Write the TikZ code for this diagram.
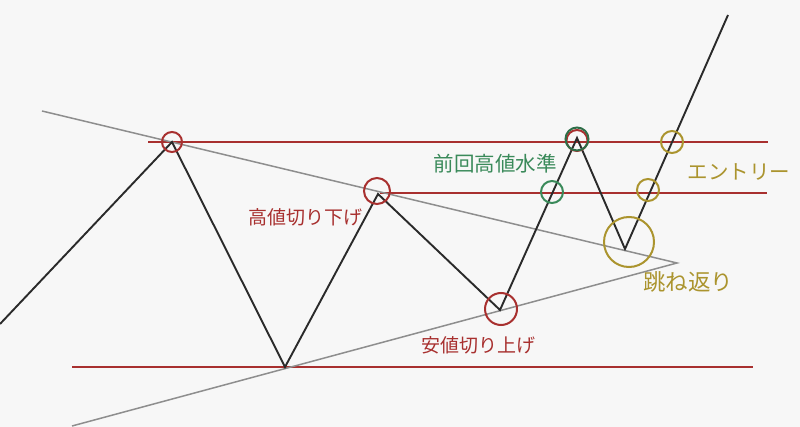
\documentclass[tikz,border=0pt]{standalone}
\usepackage{fontspec}
\newfontfamily\jp{Noto Sans CJK JP}
\definecolor{bg}{HTML}{F7F7F7}
\definecolor{lred}{HTML}{A8302F}
\definecolor{lgreen}{HTML}{3A8A5A}
\definecolor{dgreen}{HTML}{2E6E48}
\definecolor{lgold}{HTML}{AB942E}
\definecolor{lgray}{HTML}{8E8E8E}
\definecolor{lblack}{HTML}{2A2A2A}
\begin{document}
\begin{tikzpicture}[x=1pt,y=-1pt,
  level/.style={draw=lred,line width=2pt},
  trend/.style={draw=lgray,line width=1.5pt},
  price/.style={draw=lblack,line width=1.9pt,line join=miter},
  ring/.style={circle,draw=#1,line width=2pt,inner sep=0pt,fill=none},
  lbl/.style={font=\jp,text=#1,inner sep=0pt}]
\fill[bg] (0,0) rectangle (800,427);
\useasboundingbox (0,0) rectangle (800,427);
% coordinates
\coordinate (s) at (0,324);
\coordinate (p1) at (172,142);
\coordinate (t1) at (285,367);
\coordinate (p2) at (378,194);
\coordinate (t2) at (500,310);
\coordinate (p3) at (577,138);
\coordinate (t3) at (625,249);
\coordinate (e) at (728,15);
% level lines
\coordinate (h1a) at (148,142); \coordinate (h1b) at (768,142);
\coordinate (h2a) at (380,193); \coordinate (h2b) at (767,193);
\coordinate (h3a) at (72,367); \coordinate (h3b) at (753,367);
\draw[level] (h1a) -- (h1b);
\draw[level] (h2a) -- (h2b);
\draw[level] (h3a) -- (h3b);
% trend lines
\coordinate (ga) at (42,111);
\coordinate (apex) at (677,263);
\coordinate (gb) at (72,426);
\draw[trend] (ga) -- (apex) -- (gb);
% price
\draw[price] (s) -- (p1) -- (t1) -- (p2) -- (t2) -- (p3) -- (t3) -- (e);
% rings
\node[ring=lred,minimum size=20pt] (c1) at (172,142) {};
\node[ring=lred,minimum size=26pt] (c2) at (377,191) {};
\node[ring=lred,minimum size=32pt] (c3) at (501,309) {};
\node[ring=lred,minimum size=21pt] (c4r) at (577,140.5) {};
\node[ring=dgreen,minimum size=23pt] (c4) at (577,139) {};
\node[ring=lgreen,minimum size=22pt] (c5) at (552,192) {};
\node[ring=lgold,minimum size=22pt] (c6) at (672,142) {};
\node[ring=lgold,minimum size=22pt] (c7) at (648,190) {};
\node[ring=lgold,minimum size=50pt] (c8) at (629,242) {};
% labels
\node[lbl=lred,font=\jp\fontsize{19}{19}\selectfont] (l1) at (305,217) {高値切り下げ};
\node[lbl=lred,font=\jp\fontsize{19}{19}\selectfont] (l2) at (478,345) {安値切り上げ};
\node[lbl=lgreen,font=\jp\fontsize{20.5}{20.5}\selectfont] (l3) at (495,164) {前回高値水準};
\node[lbl=lgold,font=\jp\fontsize{20.5}{20.5}\selectfont] (l4) at (739,172) {エントリー};
\node[lbl=lgold,font=\jp\fontsize{22.5}{22.5}\selectfont] (l5) at (688,282) {跳ね返り};
\end{tikzpicture}
\end{document}
